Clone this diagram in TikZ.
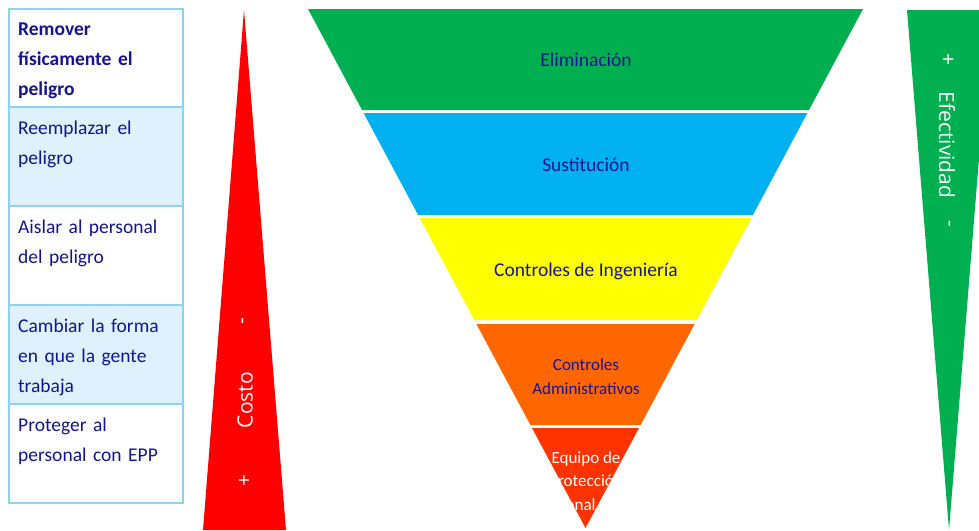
\documentclass[tikz,border=0pt]{standalone}
\usepackage{fontspec}
\setmainfont{Carlito}
\newfontfamily\sidefont{Open Sans}
\definecolor{navy}{RGB}{20,20,145}
\definecolor{rowline}{RGB}{140,210,245}
\definecolor{rowfill}{RGB}{222,241,252}
\definecolor{elimgreen}{RGB}{0,176,80}
\definecolor{sustblue}{RGB}{0,176,240}
\definecolor{ingyellow}{RGB}{255,255,0}
\definecolor{admorange}{RGB}{255,102,0}
\definecolor{epporange}{RGB}{255,51,0}
\begin{document}
\begin{tikzpicture}[x=1pt,y=-1pt,
	rowbox/.style={draw=rowline,line width=1.2pt},
	rowtext/.style={anchor=north west,inner sep=0pt,text width=165pt,align=left,text=navy,font=\fontsize{19.5}{30}\selectfont},
	bandtext/.style={text=navy,align=center,font=\fontsize{19.5}{24}\selectfont},
	sidetext/.style={text=white,font=\sidefont\fontsize{21}{24}\selectfont}]
	\useasboundingbox (0,0) rectangle (979,530);
	% tabla de la izquierda
	\draw [rowbox] (9,9) rectangle (183,107);
	\draw [rowbox,fill=rowfill] (9,107) rectangle (183,206);
	\draw [rowbox] (9,206) rectangle (183,305);
	\draw [rowbox,fill=rowfill] (9,305) rectangle (183,404);
	\draw [rowbox] (9,404) rectangle (183,503);
	\node [rowtext] (remover) at (18,14) {\strut\textbf{Remover\\f\'isicamente el\\peligro}};
	\node [rowtext] (reemplazar) at (18,113) {\strut Reemplazar el\\peligro};
	\node [rowtext] (aislar) at (18,212.5) {\strut Aislar al personal\\del peligro};
	\node [rowtext] (cambiar) at (18,311.5) {\strut Cambiar la forma\\en que la gente\\trabaja};
	\node [rowtext] (proteger) at (18,410.5) {\strut Proteger al\\personal con EPP};
	% triangulo del costo
	\fill [red] (244,10)--(286,530)--(203,530)--cycle;
	\node [sidetext,rotate=90] (costomenos) at (245,321) {-};
	\node [sidetext,rotate=90] (costo) at (245,400) {Costo};
	\node [sidetext,rotate=90] (costomas) at (245,480) {+};
	% piramide invertida
	\fill [elimgreen] (308,9)--(863,9)--(809,110)--(362,110)--cycle;
	\fill [sustblue] (363.6,113)--(807.4,113)--(752.9,215)--(418.1,215)--cycle;
	\fill [ingyellow] (419.7,218)--(751.3,218)--(696.7,320)--(474.3,320)--cycle;
	\fill [admorange] (476.4,324)--(694.6,324)--(640.6,425)--(530.4,425)--cycle;
	\fill [epporange] (532,428)--(639,428)--(585.5,528)--cycle;
	\node [bandtext] (eliminacion) at (586,60) {Eliminaci\'on};
	\node [bandtext] (sustitucion) at (586,165) {Sustituci\'on};
	\node [bandtext] (ingenieria) at (586,271) {Controles de Ingenier\'ia};
	\node [bandtext,font=\fontsize{17}{24}\selectfont] (administrativos) at (586,377) {Controles\\Administrativos};
	\node [bandtext,text=white,font=\fontsize{17}{23.5}\selectfont] (epp) at (586,482) {Equipo de\\Protecci\'on\\Personal (EPP)};
	% triangulo de la efectividad
	\fill [elimgreen] (907,10)--(991,10)--(949,530)--cycle;
	\node [sidetext,rotate=-90] (efecmas) at (947,60) {+};
	\node [sidetext,rotate=-90] (efectividad) at (947,145) {Efectividad};
	\node [sidetext,rotate=-90] (efecmenos) at (947,224) {-};
\end{tikzpicture}
\end{document}
